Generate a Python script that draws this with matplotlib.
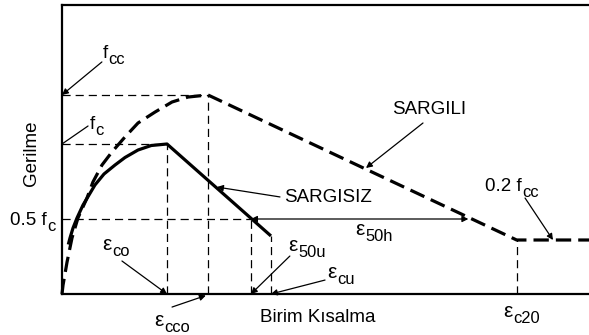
#!/usr/bin/env python3

# Stress-strain sketch for confined (SARGILI) and unconfined (SARGISIZ) concrete.

import matplotlib.pyplot as plt

plt.rcParams['font.family'] = ['Liberation Sans', 'DejaVu Sans']

# Key strains (in units of eps_co) and stresses (in units of fc).
eps_co = 1.0
eps_cc = 1.39
eps_50u = 1.8
eps_cu = 1.99
eps_50h = 3.87
eps_c20 = 4.33
fc = 1.0
fcc = 1.327
f_half = 0.5
f_res = 0.36
f_cu = 0.387

# Unconfined concrete (solid)
unconf_eps = [0.06, 0.076, 0.105, 0.143, 0.2, 0.314, 0.4, 0.505, 0.6, 0.724, 0.85, 1.0, 1.99]
unconf_sig = [0.33, 0.373, 0.44, 0.507, 0.593, 0.727, 0.80, 0.86, 0.91, 0.96, 0.99, 1.0, 0.387]

# Confined concrete (dashed)
conf_eps = [0.0, 0.01, 0.048, 0.095, 0.152, 0.238, 0.295, 0.381, 0.476, 0.6, 0.724,
            0.886, 1.048, 1.2, 1.39, 4.33, 5.1]
conf_sig = [0.0, 0.06, 0.213, 0.373, 0.507, 0.64, 0.747, 0.86, 0.947, 1.047, 1.14,
            1.213, 1.28, 1.313, 1.327, 0.36, 0.36]

FS = 13.5


def arrow(ax, tail, head, style='-|>'):
    ax.annotate('', xy=head, xytext=tail,
                arrowprops=dict(arrowstyle=style, color='black', lw=0.9,
                                mutation_scale=9, shrinkA=0, shrinkB=0),
                annotation_clip=False)


def sub_label(ax, x, y, main, sub, fs=FS):
    # main text ends at x (baseline y), subscript starts there, a bit lower
    ax.text(x, y, main, fontsize=fs, ha='right', va='baseline', clip_on=False)
    ax.annotate(sub, (x, y), xytext=(0.3, -4.5), textcoords='offset points',
                fontsize=FS * 0.88, ha='left', va='baseline', annotation_clip=False)


def main():
    fig = plt.figure(figsize=(5.89, 3.35), dpi=100)
    ax = fig.add_axes([62 / 589, 41 / 335, 1 - 62 / 589, 289 / 335])
    ax.set_xlim(0, 527 / 105)
    ax.set_ylim(0, 289 / 150)
    ax.set_xticks([])
    ax.set_yticks([])
    ax.spines['right'].set_visible(False)
    for s in ['left', 'top', 'bottom']:
        ax.spines[s].set_linewidth(1.6)

    # Thin dashed guide lines
    guide = dict(color='black', lw=0.9, dashes=(6.5, 4))
    ax.plot([0, eps_cc], [fcc, fcc], **guide)
    ax.plot([eps_cc, eps_cc], [0, fcc], **guide)
    ax.plot([0, eps_co], [fc, fc], **guide)
    ax.plot([eps_co, eps_co], [0, fc], **guide)
    ax.plot([0, eps_50u], [f_half, f_half], **guide)
    ax.plot([eps_50u, eps_50u], [0, f_half], **guide)
    ax.plot([eps_cu, eps_cu], [0, f_cu], **guide)
    ax.plot([eps_c20, eps_c20], [0, f_res], **guide)

    # Curves
    ax.plot(unconf_eps, unconf_sig, color='black', lw=2.3, solid_capstyle='butt')
    ax.plot(conf_eps, conf_sig, color='black', lw=2.3, dashes=(4.8, 2.2), clip_on=False)

    # eps_50h span
    arrow(ax, (eps_50u, f_half), (eps_50h, f_half), style='<|-|>')

    eps_fs = 15
    # Annotations
    sub_label(ax, 0.438, 1.573, 'f', 'cc')
    arrow(ax, (0.38, 1.547), (0.0, fcc))
    sub_label(ax, 0.314, 1.10, 'f', 'c')
    arrow(ax, (0.248, 1.12), (0.0, fc), style='-')
    sub_label(ax, -0.143, 0.46, '0.5 f', 'c')
    ax.text(-0.295, 0.94, 'Gerilme', fontsize=FS, ha='center', va='center',
            rotation=90, clip_on=False)

    sub_label(ax, 0.476, 0.293, 'ε', 'co', eps_fs)
    arrow(ax, (0.571, 0.22), (eps_co, 0))
    sub_label(ax, 0.971, -0.215, 'ε', 'cco', eps_fs)
    arrow(ax, (1.048, -0.087), (eps_cc - 0.02, -0.01))
    sub_label(ax, 2.248, 0.287, 'ε', '50u', eps_fs)
    arrow(ax, (2.17, 0.253), (eps_50u, 0))
    sub_label(ax, 2.619, 0.107, 'ε', 'cu', eps_fs)
    arrow(ax, (2.505, 0.093), (eps_cu, 0))
    sub_label(ax, 2.886, 0.393, 'ε', '50h', eps_fs)
    sub_label(ax, 4.295, -0.153, 'ε', 'c20', eps_fs)
    ax.text(2.44, -0.16, 'Birim Kısalma', fontsize=FS, ha='center', va='center',
            clip_on=False)

    ax.text(2.53, 0.64, 'SARGISIZ', fontsize=FS, ha='center', va='center')
    arrow(ax, (2.076, 0.647), (1.476, 0.713))
    ax.text(3.50, 1.227, 'SARGILI', fontsize=FS, ha='center', va='center')
    arrow(ax, (3.438, 1.14), (2.895, 0.84))
    sub_label(ax, 4.381, 0.687, '0.2 f', 'cc')
    arrow(ax, (4.41, 0.64), (4.676, f_res))

    plt.savefig('out.png', dpi=100)


if __name__ == '__main__':
    main()
